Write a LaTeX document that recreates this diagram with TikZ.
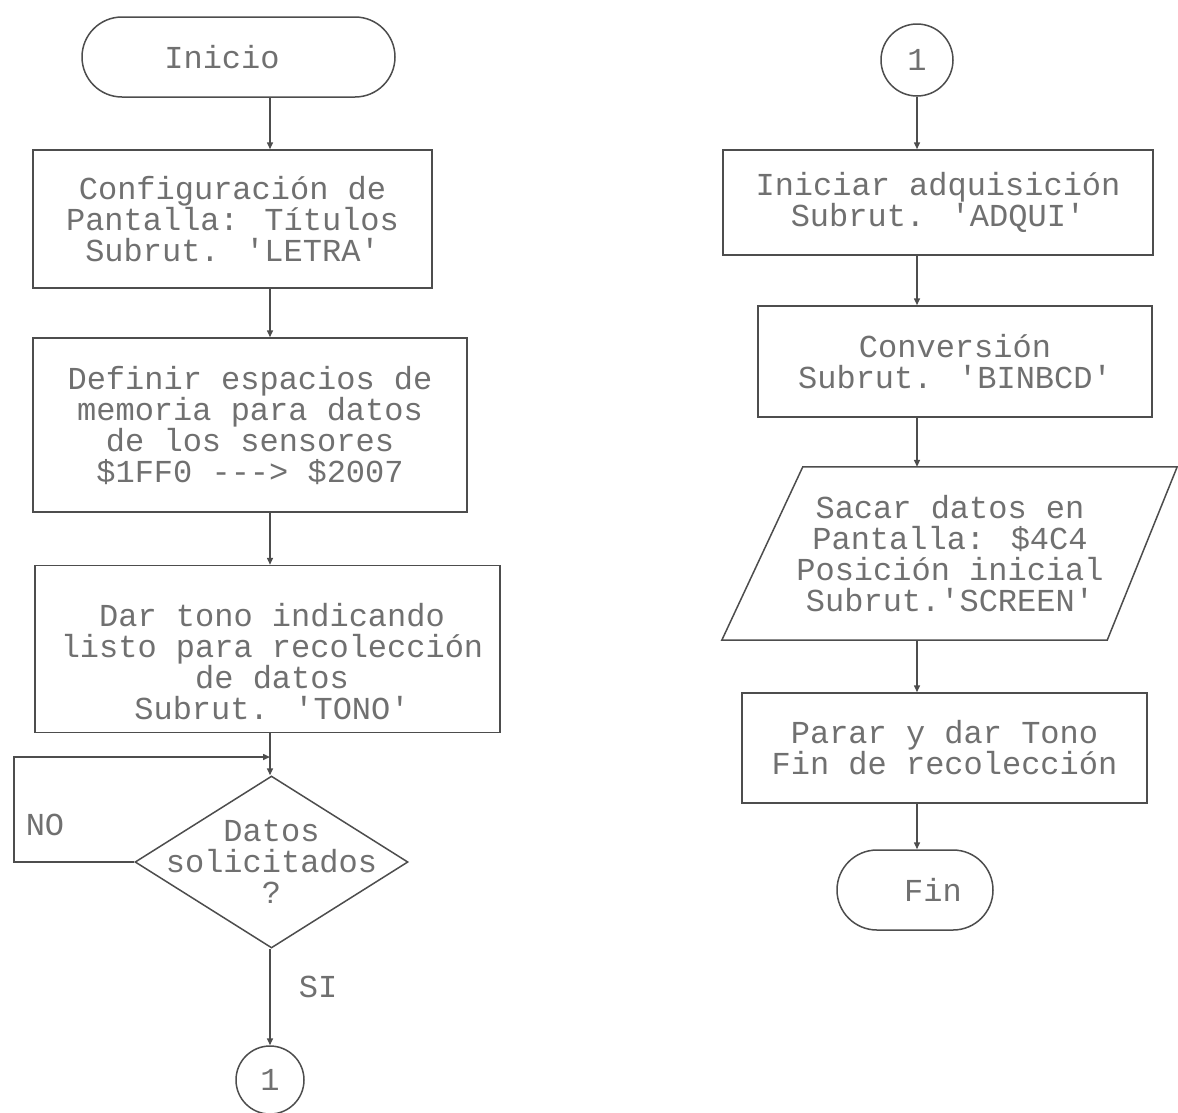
\documentclass[tikz,border=0pt]{standalone}
\usepackage{fontspec}
\newfontfamily\plotfont{Liberation Mono}
\usetikzlibrary{shapes.geometric,arrows.meta,calc}
\definecolor{ink}{HTML}{4D4D4D}
\definecolor{pen}{HTML}{707070}
\begin{document}
\begin{tikzpicture}[x=1pt,y=-1pt,
  every node/.style={font=\plotfont\fontsize{32}{31}\selectfont, text=pen},
  box/.style={draw=ink, line width=1.5pt, align=center, inner sep=0pt},
  term/.style={box, rounded corners=40pt},
  conn/.style={draw=ink, line width=1.5pt, circle, inner sep=0pt},
  flow/.style={draw=ink, line width=1.5pt, -{Triangle[length=7pt,width=6pt]}},
  line/.style={draw=ink, line width=1.5pt}]

\fill[white] (0,0) rectangle (1178,1112);
\useasboundingbox (0,0) rectangle (1178,1112);

% flow axes of the two columns
\coordinate (axL) at (270,0);
\coordinate (axR) at (917,0);

% ---------- left column ----------
\node[term, minimum width=313pt, minimum height=80pt] (inicio) at (238.5,57) {};
\node (iniciotxt) at (222,57) {Inicio};

\node[box, minimum width=399pt, minimum height=138pt] (cfg) at (232.5,219)
  {Configuración de\\Pantalla: Títulos\\Subrut. 'LETRA'};

\node[box, minimum width=434pt, minimum height=174pt] (mem) at (250,425)
  {Definir espacios de\\memoria para datos\\de los sensores\\\$1FF0 {-}{-}{-}> \$2007};

\node[box, minimum width=465pt, minimum height=167pt] (tono) at (267.5,649) {};
\node[align=center] (tonotxt) at (272,662)
  {Dar tono indicando\\listo para recolección\\de datos\\Subrut. 'TONO'};

\node[box, diamond, minimum width=273pt, minimum height=172pt] (dec) at (271.5,862) {};
\node[align=center] (dectxt) at (dec.center) {Datos\\solicitados\\?};

\node[conn, minimum size=68pt] (conL) at (270,1080) {1};

\node (no) at (45,825) {NO};
\node (si) at (318,987) {SI};

\coordinate (loop) at (14,757);

\draw[flow] (inicio.south -| axL) -- (cfg.north -| axL);
\draw[flow] (cfg.south -| axL) -- (mem.north -| axL);
\draw[flow] (mem.south -| axL) -- (tono.north -| axL);
\draw[flow] (tono.south -| axL) -- (dec.north -| axL);
\draw[flow] (dec.west) -- (dec.west -| loop) -- (loop) -- (loop -| axL);
\draw[flow] (dec.south -| axL) -- (conL.north);

% ---------- right column ----------
\node[conn, minimum size=72pt] (conR) at (917,60) {1};

\node[box, minimum width=430pt, minimum height=105pt] (adq) at (938,202.5)
  {Iniciar adquisición\\Subrut. 'ADQUI'};

\node[box, minimum width=394pt, minimum height=111pt] (conv) at (955,361.5)
  {Conversión\\Subrut. 'BINBCD'};

\node[align=center, inner sep=0pt, minimum width=380pt, minimum height=173pt] (sacar) at (950,553.5)
  {Sacar datos en\\Pantalla: \$4C4\\Posición inicial\\Subrut.'SCREEN'};
\draw[line] ($(sacar.north west)+(43,0)$) -- ($(sacar.north east)+(37,0)$)
  -- ($(sacar.south east)+(-33,0)$) -- ($(sacar.south west)+(-38,0)$) -- cycle;

\node[box, minimum width=405pt, minimum height=110pt] (parar) at (944.5,748)
  {Parar y dar Tono\\Fin de recolección};

\node[term, minimum width=156pt, minimum height=80pt] (fin) at (915,890) {};
\node (fintxt) at (933,890) {Fin};

\draw[flow] (conR.south) -- (adq.north -| axR);
\draw[flow] (adq.south -| axR) -- (conv.north -| axR);
\draw[flow] (conv.south -| axR) -- (sacar.north -| axR);
\draw[flow] (sacar.south -| axR) -- (parar.north -| axR);
\draw[flow] (parar.south -| axR) -- (fin.north -| axR);
\end{tikzpicture}
\end{document}
